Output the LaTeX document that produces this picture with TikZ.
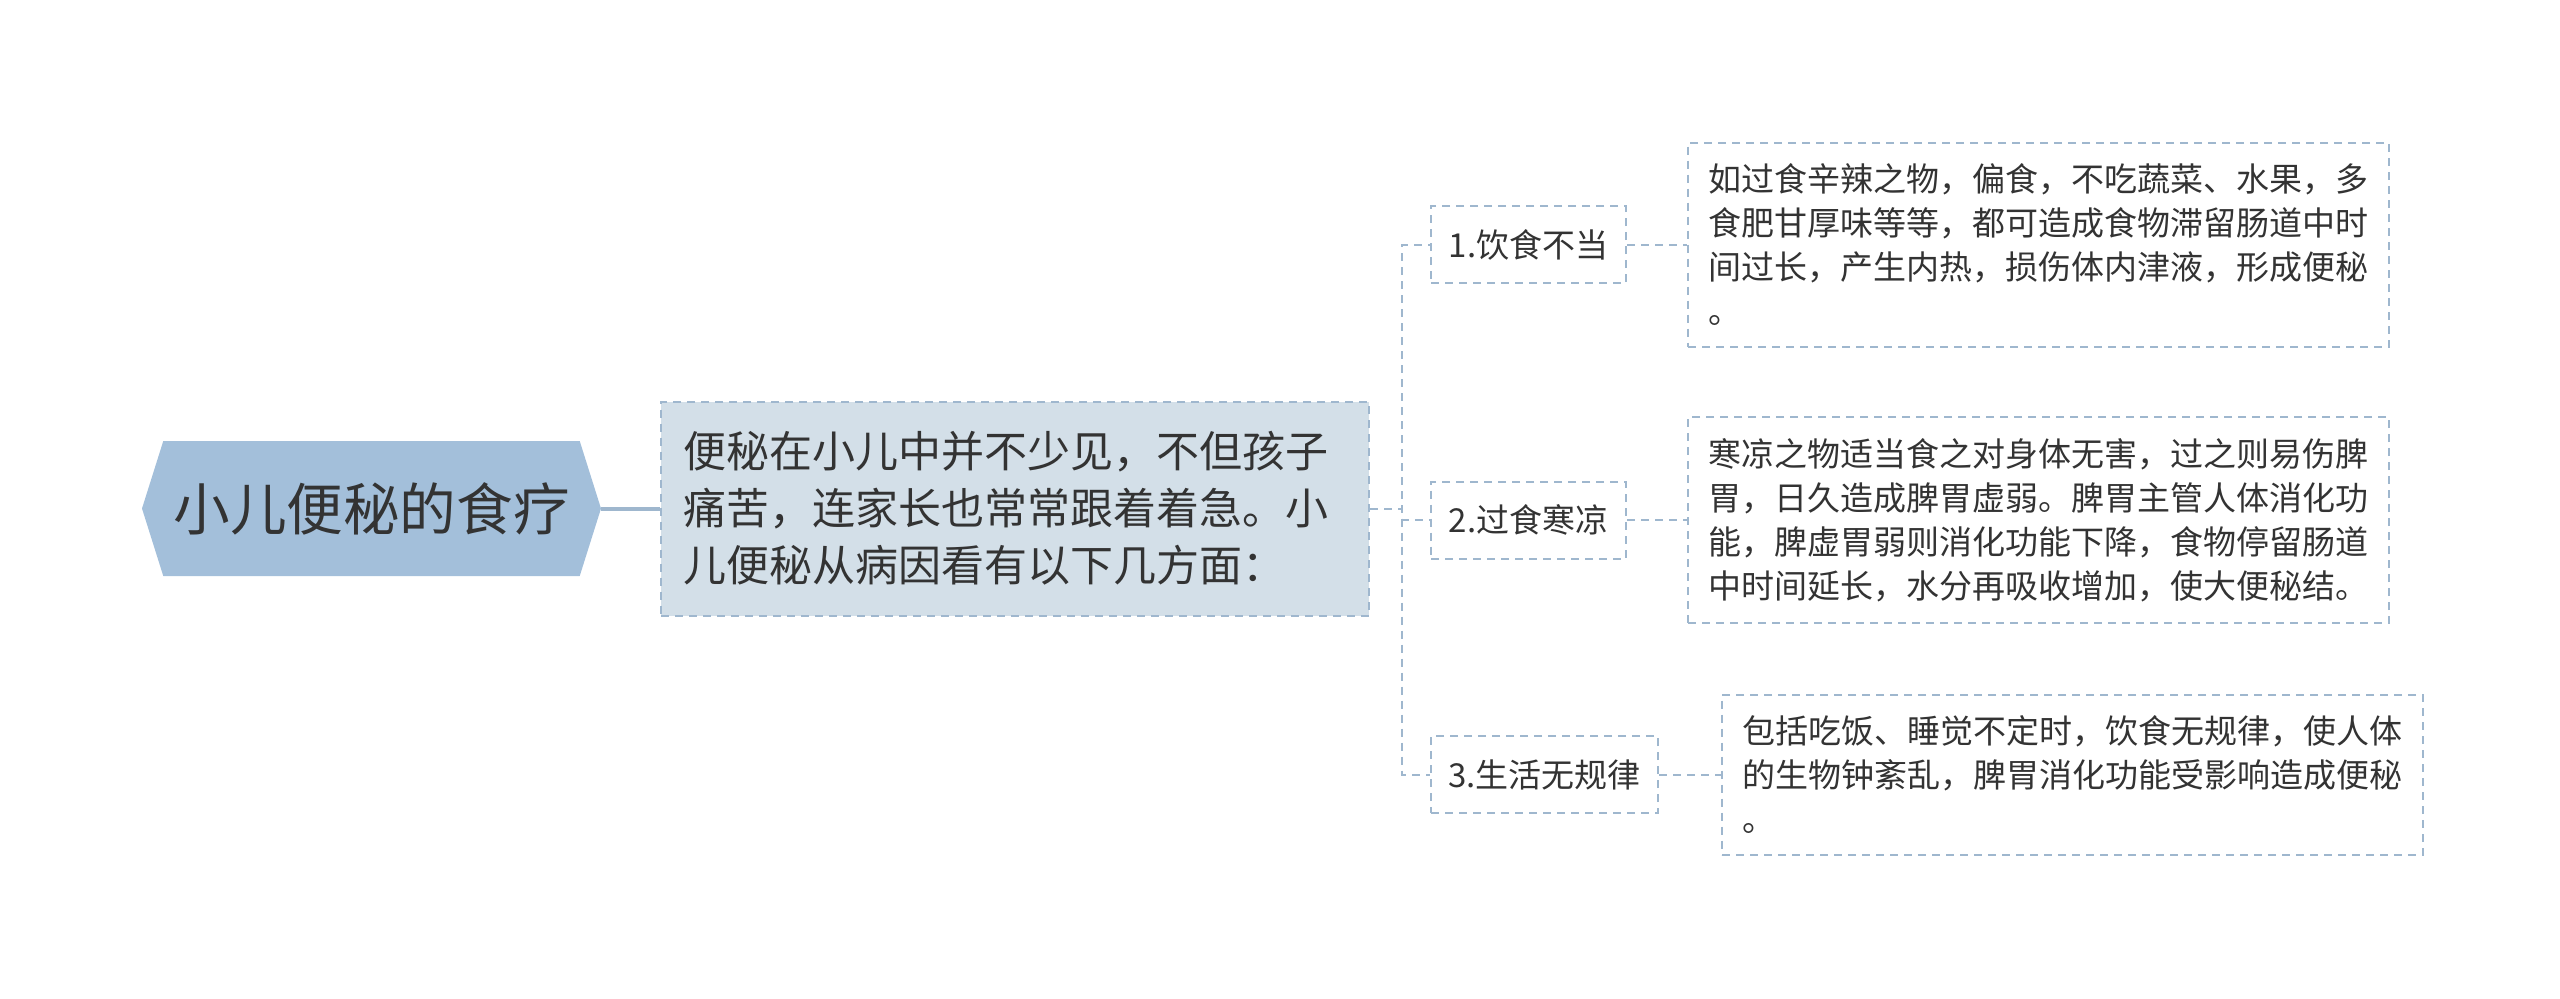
\documentclass[tikz,border=0pt]{standalone}
\usepackage{fontspec}
\setmainfont{Noto Sans CJK SC}
\usepackage{tikz}
\usetikzlibrary{shapes.symbols,positioning}
\definecolor{rootfill}{HTML}{A3BFDA}
\definecolor{mainfill}{HTML}{D3DFE8}
\definecolor{edge}{HTML}{9FB7CE}
\definecolor{ink}{HTML}{333333}

\begin{document}
\begin{tikzpicture}[x=0.5pt, y=-0.5pt,
  root/.style={signal, signal to=west and east, signal pointer angle=145, fill=rootfill, draw=none,
    minimum width=229.5pt, minimum height=67.5pt, text=ink, font=\fontsize{28.3}{34}\selectfont},
  main/.style={draw=edge, fill=mainfill, dash pattern=on 4pt off 3pt, line width=1pt, text width=332pt,
    inner xsep=11pt, minimum height=107pt, align=left, text=ink, font=\fontsize{21.5}{28.5}\selectfont},
  cat/.style={draw=edge, dash pattern=on 4pt off 3pt, line width=1pt, minimum height=38.5pt,
    inner xsep=5pt, text=ink, font=\fontsize{16.5}{22}\selectfont},
  detail/.style={draw=edge, dash pattern=on 4pt off 3pt, line width=1pt, text width=330.5pt,
    inner xsep=10pt, align=left, text=ink, font=\fontsize{16.5}{22}\selectfont},
  link/.style={draw=edge, dash pattern=on 4pt off 3pt, line width=1pt}
]
\useasboundingbox (0,0) rectangle (2560,998);

\node[root] (food) at (371.5,508.5) {小儿便秘的食疗};
\node[main, right=29.5pt of food] (cause) {便秘在小儿中并不少见，不但孩子\\痛苦，连家长也常常跟着着急。小\\儿便秘从病因看有以下几方面：};

\node[cat, anchor=west, minimum width=97.5pt] (diet) at (1430,244.5) {1.饮食不当};
\node[cat, anchor=west, minimum width=97.5pt] (cold) at (1430,520) {2.过食寒凉};
\node[cat, anchor=west, minimum width=113.5pt] (life) at (1430,774.5) {3.生活无规律};

\node[detail, minimum height=102pt, right=30pt of diet] (dietnote) {如过食辛辣之物，偏食，不吃蔬菜、水果，多\\食肥甘厚味等等，都可造成食物滞留肠道中时\\间过长，产生内热，损伤体内津液，形成便秘\\。};
\node[detail, minimum height=103pt, right=30pt of cold] (coldnote) {寒凉之物适当食之对身体无害，过之则易伤脾\\胃，日久造成脾胃虚弱。脾胃主管人体消化功\\能，脾虚胃弱则消化功能下降，食物停留肠道\\中时间延长，水分再吸收增加，使大便秘结。};
\node[detail, minimum height=80pt, right=31pt of life] (lifenote) {包括吃饭、睡觉不定时，饮食无规律，使人体\\的生物钟紊乱，脾胃消化功能受影响造成便秘\\。};

\draw[edge, line width=2pt] (food.east) -- (cause.west);
\draw[link] (cause.east) -- ++(32,0) |- (diet.west);
\draw[link] (cause.east) -- ++(32,0) |- (cold.west);
\draw[link] (cause.east) -- ++(32,0) |- (life.west);
\draw[link] (diet) -- (dietnote);
\draw[link] (cold) -- (coldnote);
\draw[link] (life) -- (lifenote);
\end{tikzpicture}
\end{document}
